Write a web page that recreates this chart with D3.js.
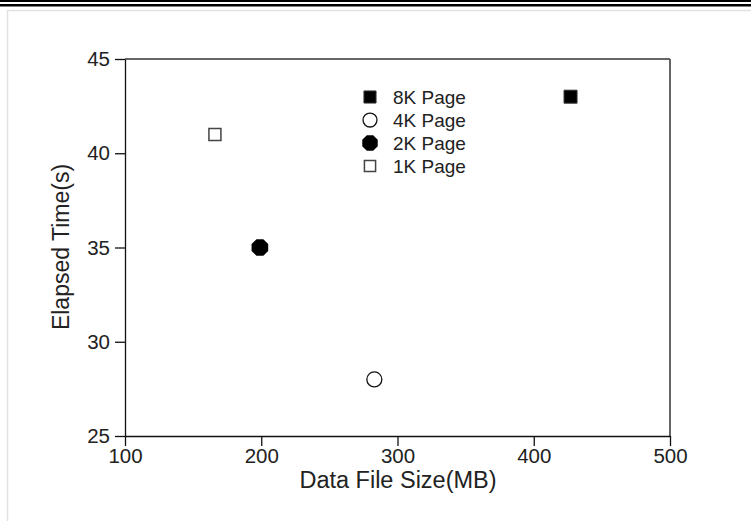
<!DOCTYPE html>
<html><head><meta charset="utf-8">
<script src="https://cdn.jsdelivr.net/npm/d3@7"></script>
<style>
html,body{margin:0;padding:0;background:#fff;}
svg{display:block;font-family:"Liberation Sans",Arial,Helvetica,sans-serif;}
</style></head>
<body><svg id="chart" width="751" height="521"></svg>
<script>
// Data
const series = ["8K Page", "4K Page", "2K Page", "1K Page"];
const fileSizeMB = [427, 283, 199, 166];
const elapsedSec = [43, 28, 35, 41];
const markerKinds = ["filledSquare", "openCircle", "filledOctagon", "openSquare"];
const xTicks = [100, 200, 300, 400, 500];
const yTicks = [25, 30, 35, 40, 45];

const svg = d3.select("#chart");
const W = 751, H = 521;

// page decorations
svg.append("rect").attr("x",0).attr("y",0).attr("width",W).attr("height",2).attr("fill","#000");
svg.append("rect").attr("x",0).attr("y",4).attr("width",W).attr("height",2.5).attr("fill","#000");
svg.append("line").attr("x1",7).attr("x2",W).attr("y1",10.5).attr("y2",10.5).attr("stroke","#e2e2e2").attr("stroke-width",1.5);
svg.append("line").attr("x1",7.5).attr("x2",7.5).attr("y1",10).attr("y2",H).attr("stroke","#e2e2e2").attr("stroke-width",1.5);

const x = d3.scaleLinear().domain([100, 500]).range([125, 670]);
const y = d3.scaleLinear().domain([25, 45]).range([436, 59]);

// frame top/right
svg.append("line").attr("x1",125).attr("x2",670).attr("y1",y(45)).attr("y2",y(45)).attr("stroke","#333").attr("stroke-width",1.5);
svg.append("line").attr("x1",670).attr("x2",670).attr("y1",y(45)).attr("y2",y(25)).attr("stroke","#555").attr("stroke-width",1.8);

const xAxis = svg.append("g").attr("transform",`translate(0,${y(25)})`)
  .call(d3.axisBottom(x).tickValues(xTicks).tickSize(10).tickSizeOuter(0).tickPadding(2).tickFormat(d3.format("d")));
const yAxis = svg.append("g").attr("transform",`translate(${x(100)},0)`)
  .call(d3.axisLeft(y).tickValues(yTicks).tickSize(10).tickSizeOuter(0).tickPadding(5).tickFormat(d3.format("d")));
[xAxis, yAxis].forEach(g=>{
  g.attr("font-size", null).attr("font-family", null);
  g.select(".domain").attr("stroke","#111").attr("stroke-width",1.3);
  g.selectAll(".tick line").attr("stroke","#111").attr("stroke-width",1.3);
  g.selectAll(".tick text").attr("fill","#222").style("font-size","20.5px").style("font-family","'Liberation Sans',Arial,sans-serif");
});

svg.append("text").attr("x",398).attr("y",488).attr("text-anchor","middle")
  .style("font-size","23.5px").attr("fill","#222").text("Data File Size(MB)");
svg.append("text").attr("transform","translate(69,247) rotate(-90)").attr("text-anchor","middle")
  .style("font-size","23px").attr("fill","#222").text("Elapsed Time(s)");

function octagonPath(r){
  const pts = d3.range(8).map(i=>{const a = Math.PI/8 + i*Math.PI/4; return [r*Math.cos(a), r*Math.sin(a)];});
  return d3.line()(pts) + "Z";
}
function drawMarker(g, kind, cx, cy, scale){
  const s = scale || 1;
  if (kind === "filledSquare") {
    g.append("path").attr("transform",`translate(${cx},${cy})`).attr("d", d3.symbol(d3.symbolSquare, 169*s*s)()).attr("fill","#000").attr("stroke","#333").attr("stroke-width",1);
  } else if (kind === "openSquare") {
    g.append("path").attr("transform",`translate(${cx},${cy})`).attr("d", d3.symbol(d3.symbolSquare, 144*s*s)()).attr("fill","#fff").attr("stroke","#444").attr("stroke-width",1.5);
  } else if (kind === "openCircle") {
    g.append("circle").attr("cx",cx).attr("cy",cy).attr("r",7.5*s).attr("fill","#fff").attr("stroke","#111").attr("stroke-width",1.3);
  } else if (kind === "filledOctagon") {
    g.append("path").attr("transform",`translate(${cx},${cy})`).attr("d", octagonPath(9*s)).attr("fill","#000");
  }
}

const pts = svg.append("g");
series.forEach((s,i)=> drawMarker(pts, markerKinds[i], x(fileSizeMB[i]), y(elapsedSec[i]), 1));

// legend
const legY = [97, 120, 143, 166];
const leg = svg.append("g");
series.forEach((s,i)=>{
  drawMarker(leg, markerKinds[i], 370, legY[i], 0.93);
  leg.append("text").attr("x",393).attr("y",legY[i]+6.5).style("font-size","19px").attr("fill","#222").text(s);
});
</script></body></html>
